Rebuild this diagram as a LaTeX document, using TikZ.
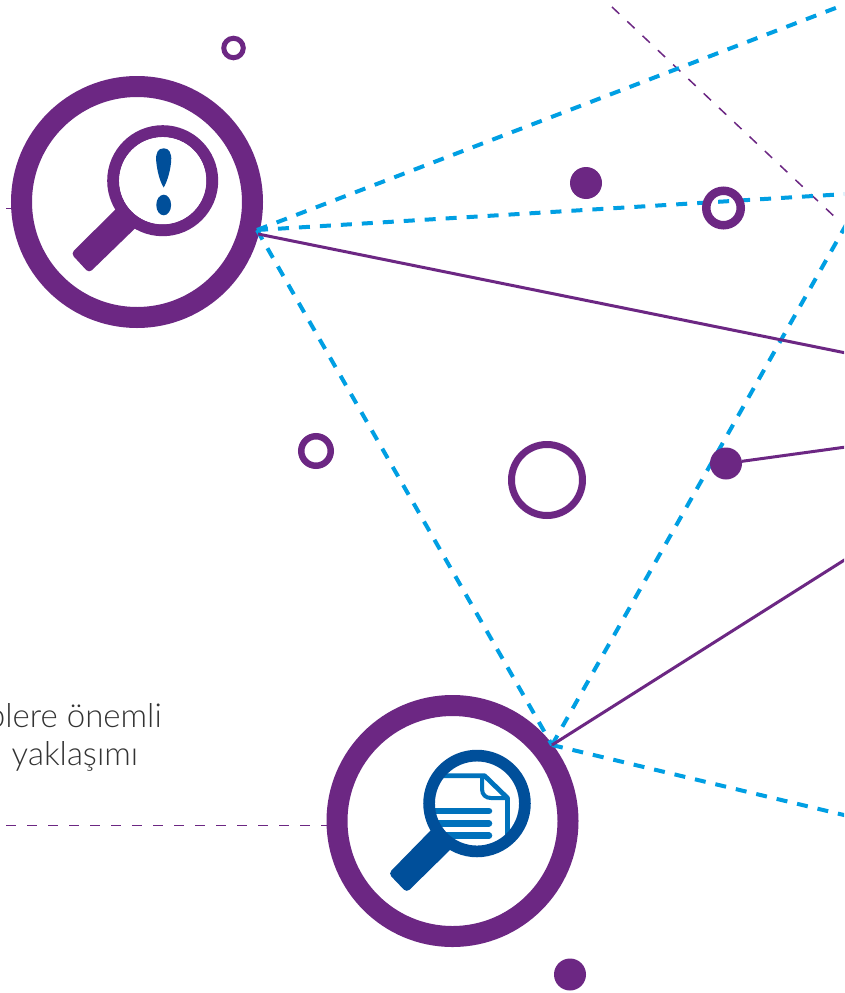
\documentclass[tikz,border=0pt]{standalone}
\usepackage{fontspec}
\setmainfont{Lato Light}
\definecolor{plum}{HTML}{6C2783}
\definecolor{navy}{HTML}{004F9A}
\definecolor{midblue}{HTML}{0072BC}
\definecolor{sky}{HTML}{009FE3}
\definecolor{inkgrey}{HTML}{333333}
\tikzset{
  bigring/.style={circle,draw=plum,line width=21pt,minimum size=231pt,inner sep=0pt,outer sep=0pt},
  ringmark/.style={circle,draw=plum,inner sep=0pt,outer sep=0pt},
  dotmark/.style={circle,fill=plum,minimum size=32pt,inner sep=0pt,outer sep=0pt},
  skydash/.style={draw=sky,line width=4pt,dash pattern=on 11pt off 10pt},
  plumline/.style={draw=plum,line width=3pt},
  thindash/.style={draw=plum,line width=1.5pt,dash pattern=on 10pt off 11pt},
  caption/.style={text=inkgrey,font=\fontsize{33}{38}\selectfont,inner sep=0pt}
}
\begin{document}
\begin{tikzpicture}[x=1pt,y=-1pt]
\useasboundingbox (0,0) rectangle (844,993);
\fill[white] (0,0) rectangle (844,993);
\begin{scope}
\clip (0,0) rectangle (844,993);
% free ends
\coordinate (hubA) at (257,230);
\coordinate (hubAp) at (258,234);
\coordinate (hubB) at (552,745);
\coordinate (endA) at (846,4);
\coordinate (endB) at (846,194);
\coordinate (endC) at (846,353);
\coordinate (endD) at (846,447);
\coordinate (endE) at (846,559);
\coordinate (endF) at (846,815.5);
\coordinate (endG) at (846,225);
\coordinate (thinA) at (612,7);
\coordinate (thinB) at (837.5,219.5);
\coordinate (thinC) at (6,825.5);
\coordinate (stubA) at (6,208.5);
% rings
\node[bigring] (ringA) at (137,202) {};
\node[bigring] (ringB) at (452.5,821) {};
\draw[thindash] (thinA) -- (thinB);
\draw[thindash] (thinC) -- (ringB.west |- thinC);
\draw[draw=plum,line width=1.5pt] (stubA) -- (ringA.west |- stubA);
% connectors
\draw[skydash] (hubA) -- (endA);
\draw[skydash] (hubA) -- (endB);
\draw[skydash] (hubA) -- (hubB);
\draw[skydash] (hubB) -- (endG);
\draw[skydash] (hubB) -- (endF);
\draw[plumline] (hubAp) -- (endC);
\draw[plumline] (hubB) -- (endE);
% small marks
\node[dotmark] (dotA) at (586,183) {};
\node[dotmark] (dotB) at (726,463.5) {};
\node[dotmark] (dotC) at (570,974.5) {};
\draw[plumline] (dotB) -- (endD);
\node[ringmark,line width=5pt,minimum size=19.5pt] (ringC) at (233.5,48) {};
\node[ringmark,line width=6.5pt,minimum size=29.5pt] (ringD) at (316,451) {};
\node[ringmark,line width=7pt,minimum size=71pt] (ringE) at (547,480) {};
\node[ringmark,line width=8.5pt,minimum size=34.5pt] (ringF) at (723.5,208) {};
% magnifier with exclamation mark
\draw[plum,line width=12pt] (162.7,180.7) circle (49.5);
\fill[plum] (119,206) [rounded corners=4pt] -- (71,253.5) -- (89,273) [sharp corners] -- (137,226.5) -- cycle;
\fill[white] (162.7,180.7) circle (43.5);
\fill[navy] (163.7,148.3) .. controls (158,148.3) and (155.5,153) .. (156.2,161) .. controls (157,170) and (159.5,181) .. (163.7,187.5)
  .. controls (167.5,181) and (170.5,170) .. (171.2,161) .. controls (171.8,153) and (169,148.3) .. (163.7,148.3) -- cycle;
\fill[navy] (163.7,205) ellipse (7.4 and 10.3);
% magnifier with document
\fill[navy] (433,828) [rounded corners=4pt] -- (388.5,873.5) -- (406.7,892.5) [sharp corners] -- (452,848) -- cycle;
\begin{scope}
\clip (477,803.5) circle (42.5);
\draw[midblue,line width=4.8pt,line join=round] (430,775.7) -- (484.5,775.7) -- (507.5,798) -- (507.5,860);
\draw[midblue,line width=4pt,line join=round] (482,776) -- (482,789) .. controls (482,795) and (486,798) .. (491,798) -- (507,798);
\draw[midblue,line width=6.5pt,line cap=round] (425,811) -- (489,811);
\draw[midblue,line width=6.5pt,line cap=round] (425,823.3) -- (489,823.3);
\draw[midblue,line width=6.5pt,line cap=round] (425,835.7) -- (489,835.7);
\end{scope}
\draw[navy,line width=11.7pt] (477,803.5) circle (47.9);
% caption
\node[caption,anchor=base east] (capA) at (162,727) {plere önemli};
\node[caption,anchor=base] (capB) at (75,765) {yaklaşımı};
\end{scope}
\end{tikzpicture}
\end{document}
